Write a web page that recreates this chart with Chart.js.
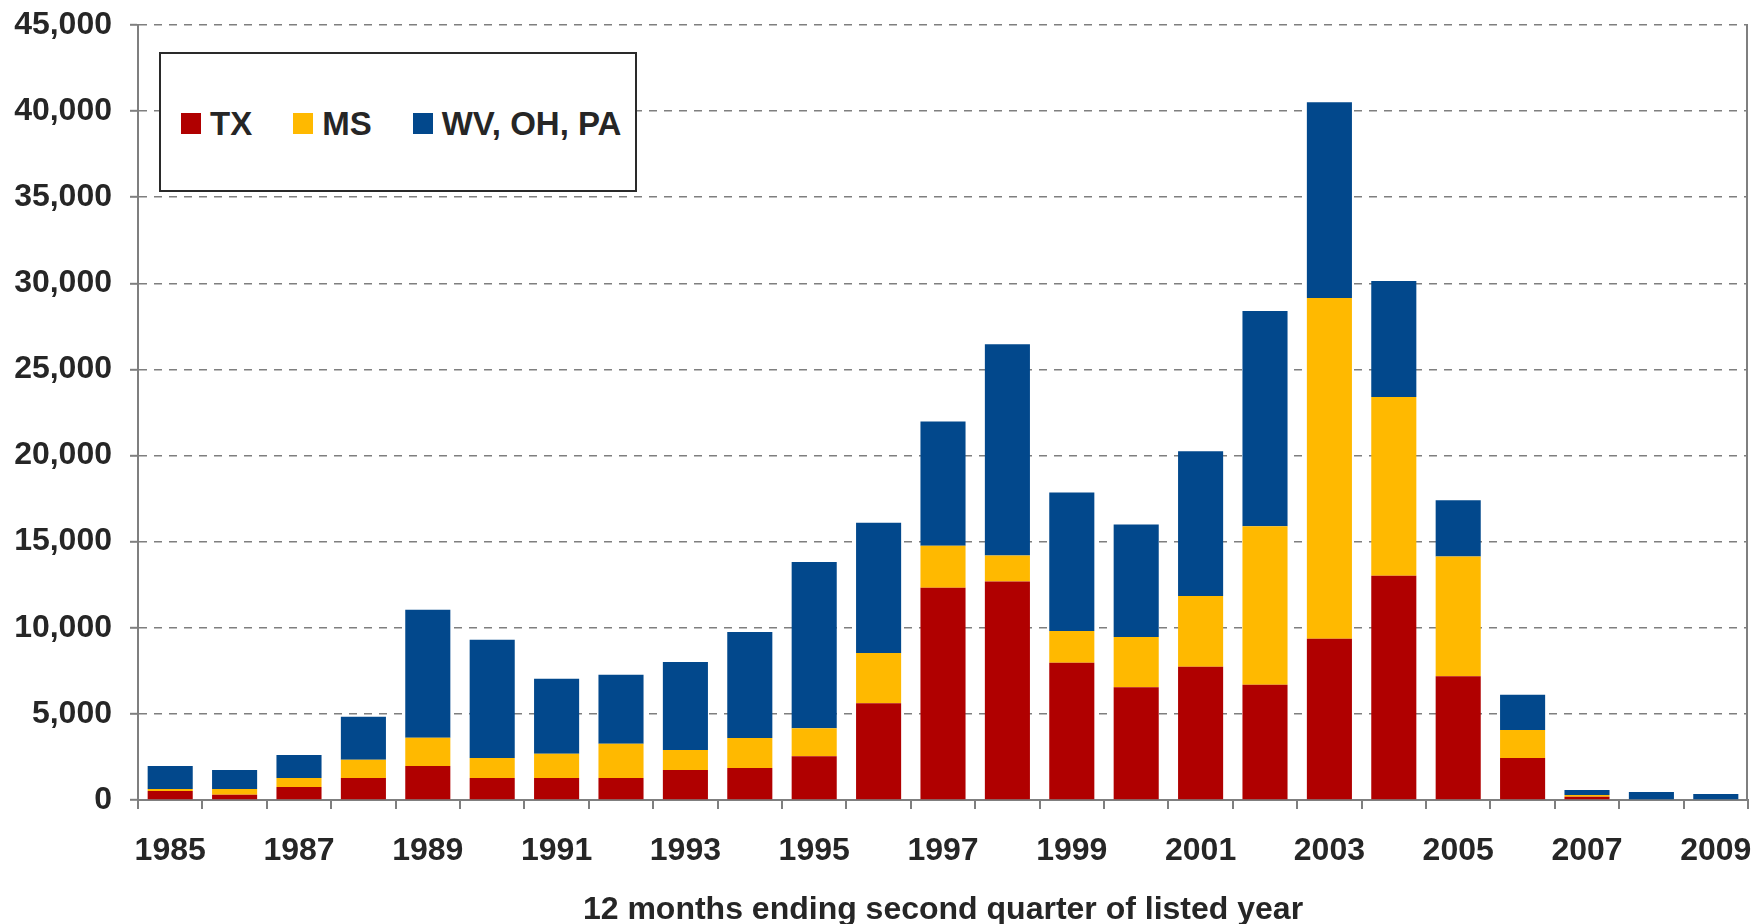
<!DOCTYPE html>
<html>
<head>
<meta charset="utf-8">
<script src="https://cdn.jsdelivr.net/npm/chart.js@4/dist/chart.umd.min.js"></script>
<style>
  html, body { margin: 0; padding: 0; background: #fff; }
  #wrap { position: relative; width: 1755px; height: 924px; }
  #legend {
    position: absolute; left: 159px; top: 52px; width: 478px; height: 140px;
    box-sizing: border-box; border: 2px solid #2a2a2a; background: #fff;
    display: flex; align-items: center; padding-left: 20px; padding-top: 3px;
    font-family: "Liberation Sans", Arial, sans-serif; font-weight: bold;
    font-size: 33px; color: #262626;
  }
  .item { display: flex; align-items: center; margin-right: 41px; white-space: nowrap; }
  .item:last-child { margin-right: 0; }
  .sw { width: 20px; height: 21px; margin-right: 9px; display: inline-block; }
</style>
</head>
<body>
<div id="wrap">
  <canvas id="c" width="1755" height="924"></canvas>
  <div id="legend"></div>
</div>
<script>
const years = ['1985','1986','1987','1988','1989','1990','1991','1992','1993','1994','1995','1996','1997','1998','1999','2000','2001','2002','2003','2004','2005','2006','2007','2008','2009'];
const seriesNames = ['TX', 'MS', 'WV, OH, PA'];
const txValues = [520, 310, 760, 1280, 1980, 1280, 1280, 1280, 1740, 1860, 2540, 5620, 12330, 12680, 7970, 6550, 7730, 6690, 9360, 13020, 7180, 2440, 190, 0, 0];
const msValues = [120, 330, 520, 1050, 1630, 1160, 1400, 1980, 1160, 1740, 1630, 2910, 2430, 1520, 1840, 2920, 4120, 9200, 19790, 10380, 6960, 1630, 100, 0, 0];
const wvValues = [1340, 1100, 1340, 2500, 7440, 6860, 4360, 4010, 5120, 6160, 9650, 7570, 7220, 12270, 8050, 6520, 8400, 12510, 11360, 6740, 3260, 2040, 290, 460, 350];
const colors = ['#B00000', '#FFB900', '#02488C'];
const yTicks = [0, 5000, 10000, 15000, 20000, 25000, 30000, 35000, 40000, 45000];
const xTitle = '12 months ending second quarter of listed year';

const FONT = '"Liberation Sans", Arial, sans-serif';
const TEXT = '#262626';
const GRID = '#7f7f7f';

const rightBorder = {
  id: 'rightBorder',
  afterDraw(chart) {
    const { ctx, chartArea } = chart;
    ctx.save();
    ctx.strokeStyle = GRID;
    ctx.lineWidth = 2;
    ctx.beginPath();
    ctx.moveTo(Math.round(chartArea.right) - 1, chartArea.top);
    ctx.lineTo(Math.round(chartArea.right) - 1, chartArea.bottom);
    ctx.stroke();
    ctx.restore();
  }
};

const chart = new Chart(document.getElementById('c'), {
  type: 'bar',
  data: {
    labels: years,
    datasets: [
      { label: seriesNames[0], data: txValues, backgroundColor: colors[0] },
      { label: seriesNames[1], data: msValues, backgroundColor: colors[1] },
      { label: seriesNames[2], data: wvValues, backgroundColor: colors[2] }
    ]
  },
  options: {
    responsive: false,
    animation: false,
    layout: { padding: { top: 25, right: 7, bottom: 0, left: 0 } },
    datasets: { bar: { barPercentage: 0.7, categoryPercentage: 1.0, borderWidth: 0 } },
    plugins: { legend: { display: false }, tooltip: { enabled: false } },
    scales: {
      x: {
        stacked: true,
        afterFit(scale) { scale.height = 124; scale.paddingLeft = 0; scale.paddingRight = 0; },
        grid: { display: true, drawOnChartArea: false, drawTicks: true, tickLength: 9, color: GRID, lineWidth: 2, offset: true },
        border: { display: true, color: GRID, width: 2 },
        ticks: {
          autoSkip: false, maxRotation: 0, minRotation: 0, padding: 23, color: TEXT,
          font: { family: FONT, size: 32, weight: 'bold' },
          callback(value, index) { return index % 2 === 0 ? years[index] : ''; }
        },
        title: {
          display: true, text: xTitle, color: TEXT,
          font: { family: FONT, size: 32, weight: 'bold', lineHeight: 1 },
          padding: { top: 0, bottom: -2 }
        }
      },
      y: {
        stacked: true,
        min: yTicks[0], max: yTicks[yTicks.length - 1],
        afterFit(scale) { scale.width = 138; scale.paddingTop = 0; scale.paddingBottom = 0; },
        afterBuildTicks(scale) { scale.ticks = yTicks.map(v => ({ value: v })); },
        grid: { color: GRID, lineWidth: 1.6, tickBorderDash: [], tickLength: 8, tickColor: GRID, tickWidth: 2 },
        border: { display: true, color: GRID, width: 2, dash: [8, 7] },
        ticks: {
          padding: 18, color: TEXT,
          font: { family: FONT, size: 32, weight: 'bold' },
          callback(value) { return Number(value).toLocaleString('en-US'); }
        }
      }
    }
  },
  plugins: [rightBorder]
});

const legendEl = document.getElementById('legend');
chart.data.datasets.forEach(ds => {
  const item = document.createElement('div');
  item.className = 'item';
  const sw = document.createElement('span');
  sw.className = 'sw';
  sw.style.background = ds.backgroundColor;
  const t = document.createElement('span');
  t.textContent = ds.label;
  item.appendChild(sw);
  item.appendChild(t);
  legendEl.appendChild(item);
});
</script>
</body>
</html>
